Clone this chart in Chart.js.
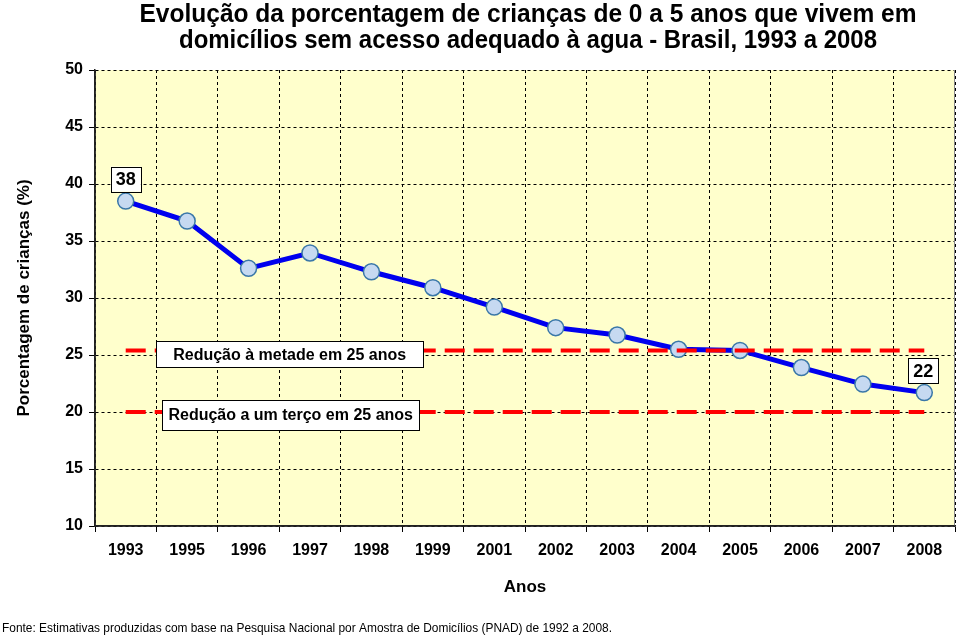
<!DOCTYPE html>
<html><head><meta charset="utf-8">
<script src="https://cdn.jsdelivr.net/npm/chart.js@4/dist/chart.umd.min.js"></script>
<style>html,body{margin:0;padding:0;background:#fff;}#wrap{width:960px;height:636px;}</style>
</head><body><div id="wrap"><canvas id="c" width="960" height="636"></canvas></div>
<script>
const categories = ['1993','1995','1996','1997','1998','1999','2001','2002','2003','2004','2005','2006','2007','2008'];
const values = [38.5, 36.75, 32.6, 33.95, 32.3, 30.9, 29.2, 27.4, 26.75, 25.5, 25.4, 23.9, 22.45, 21.7];
const metaMetade = categories.map(() => 25.4);
const metaTerco = categories.map(() => 20.0);
const yTicks = [10, 15, 20, 25, 30, 35, 40, 45, 50];
const pointLabels = [{i: 0, text: '38', dx: 0}, {i: 13, text: '22', dx: -1}];
const notes = [
  {text: 'Redução à metade em 25 anos', value: 25.4},
  {text: 'Redução a um terço em 25 anos', value: 20.0}
];
const titleLines = ['Evolução da porcentagem de crianças de 0 a 5 anos que vivem em', 'domicílios sem acesso adequado à agua - Brasil, 1993 a 2008'];
const footer = 'Fonte: Estimativas produzidas com base na Pesquisa Nacional por Amostra de Domicílios (PNAD) de 1992 a 2008.';

const SANS = '"Liberation Sans", Arial, sans-serif';

function box(ctx, cx, cy, text, font, padX, h) {
  ctx.font = font;
  const w = ctx.measureText(text).width + padX * 2;
  ctx.fillStyle = '#fff';
  ctx.fillRect(cx - w / 2, cy - h / 2, w, h);
  ctx.strokeStyle = '#000';
  ctx.lineWidth = 1;
  ctx.strokeRect(Math.round(cx - w / 2) + 0.5, Math.round(cy - h / 2) + 0.5, Math.round(w), h);
  ctx.fillStyle = '#000';
  ctx.textAlign = 'center';
  ctx.textBaseline = 'middle';
  ctx.fillText(text, cx, cy + 1);
}

function fitText(ctx, text, x, y, width, align) {
  const w = ctx.measureText(text).width;
  const s = width / w;
  ctx.save();
  ctx.translate(x, y);
  ctx.scale(s, 1);
  ctx.textAlign = align;
  ctx.fillText(text, 0, 0);
  ctx.restore();
}

const decor = {
  id: 'decor',
  beforeDraw(chart) {
    const {ctx, chartArea: a} = chart;
    ctx.save();
    ctx.fillStyle = '#FFFFCC';
    ctx.fillRect(a.left, a.top, a.right - a.left, a.bottom - a.top);
    ctx.restore();
  },
  beforeDatasetsDraw(chart) {
    const {ctx, chartArea: a} = chart;
    ctx.save();
    ctx.setLineDash([]);
    ctx.strokeStyle = '#888';
    ctx.lineWidth = 1;
    ctx.beginPath();
    ctx.moveTo(Math.round(a.right) - 0.5, a.top);
    ctx.lineTo(Math.round(a.right) - 0.5, a.bottom);
    ctx.stroke();
    ctx.strokeStyle = '#222';
    ctx.lineWidth = 1.5;
    ctx.beginPath();
    ctx.moveTo(a.left, a.top);
    ctx.lineTo(a.left, a.bottom);
    ctx.lineTo(a.right, a.bottom);
    ctx.stroke();
    ctx.restore();
  },
  afterDraw(chart) {
    const {ctx, chartArea: a, scales} = chart;
    const x = scales.x, y = scales.y;
    ctx.save();
    // title
    ctx.fillStyle = '#000';
    ctx.textBaseline = 'middle';
    ctx.font = 'bold 25px ' + SANS;
    fitText(ctx, titleLines[0], 528, 15, 777, 'center');
    fitText(ctx, titleLines[1], 528, 41, 698, 'center');
    // footer
    ctx.font = '13px ' + SANS;
    fitText(ctx, footer, 2, 628, 610, 'left');
    // notes
    const n0 = notes[0];
    box(ctx, x.getPixelForValue(0) + 164, y.getPixelForValue(n0.value) + 4, n0.text, 'bold 16px ' + SANS, 17, 26);
    const n1 = notes[1];
    box(ctx, x.getPixelForValue(0) + 165, y.getPixelForValue(n1.value) + 3, n1.text, 'bold 16px ' + SANS, 6, 30);
    // point labels
    pointLabels.forEach(p => {
      const px = x.getPixelForValue(p.i) + p.dx;
      const py = y.getPixelForValue(values[p.i]);
      box(ctx, px, py - 22, p.text, 'bold 18px ' + SANS, 5, 25);
    });
    ctx.restore();
  }
};

new Chart(document.getElementById('c'), {
  type: 'line',
  data: {
    labels: categories,
    datasets: [
      {data: metaMetade, borderColor: '#FF0000', borderWidth: 4, borderDash: [20, 9], pointRadius: 0, fill: false, order: 0},
      {data: metaTerco, borderColor: '#FF0000', borderWidth: 4, borderDash: [20, 9], pointRadius: 0, fill: false, order: 0},
      {data: values, borderColor: '#0000EE', borderWidth: 5, pointRadius: 8, pointBackgroundColor: '#C6D9F1', pointBorderColor: '#3A77A8', pointBorderWidth: 1.5, fill: false, tension: 0, order: 1}
    ]
  },
  options: {
    responsive: false,
    animation: false,
    layout: {autoPadding: false, padding: {left: 0, right: 5, top: 70, bottom: 30}},
    plugins: {legend: {display: false}, tooltip: {enabled: false}, title: {display: false}},
    scales: {
      x: {
        offset: true,
        grid: {offset: true, color: '#000', lineWidth: 1, tickLength: 6},
        border: {display: true, color: '#222', width: 1.5, dash: [3, 3]},
        ticks: {color: '#000', font: {family: SANS, size: 16, weight: 'bold'}, padding: 9, autoSkip: false, maxRotation: 0},
        title: {display: true, text: 'Anos', color: '#000', font: {family: SANS, size: 17, weight: 'bold'}, padding: {top: 0, bottom: 8}},
        afterFit(s) { s.height = 80; }
      },
      y: {
        min: 10, max: 50,
        afterBuildTicks(s) { s.ticks = yTicks.map(v => ({value: v})); },
        grid: {color: '#000', lineWidth: 1, tickLength: 6},
        border: {display: true, color: '#222', width: 1.5, dash: [3, 3]},
        ticks: {color: '#000', font: {family: SANS, size: 16, weight: 'bold'}, padding: 6},
        title: {display: true, text: 'Porcentagem de crianças (%)', color: '#000', font: {family: SANS, size: 17, weight: 'bold'}, padding: {top: 14, bottom: 0}},
        afterFit(s) { s.width = 95; }
      }
    }
  },
  plugins: [decor]
});
</script></body></html>
